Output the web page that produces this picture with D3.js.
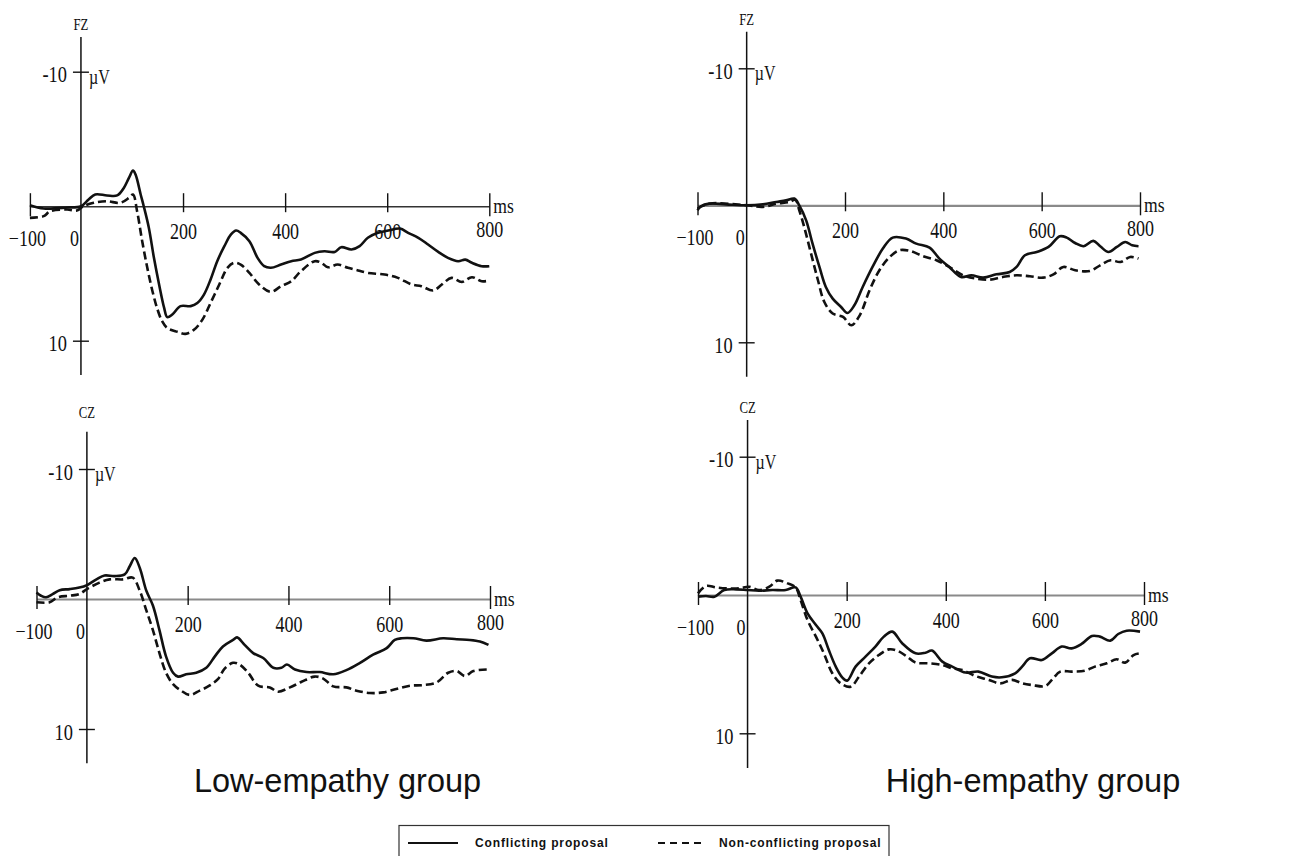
<!DOCTYPE html>
<html>
<head>
<meta charset="utf-8">
<script src="https://cdn.jsdelivr.net/npm/d3@7"></script>
<style>
  body { margin: 0; background: #fff; }
  svg { display: block; }
</style>
</head>
<body>
<svg id="chart" width="1307" height="856"></svg>
<script>
// ERP waveforms, [ms, µV] (negative up)
const fzLowConflict = [[-100,-0.07],[-73,0.17],[-27,0.1],[0,0],[15,-0.5],[28,-0.87],[51,-0.8],[71,-0.8],[84,-1.36],[94,-2.1],[102,-2.65],[107,-2.35],[117,-0.87],[123,0],[133,1.6],[143,3.84],[153,5.8],[163,7.56],[169,8.25],[179,8.05],[195,7.43],[215,7.43],[228,7.2],[241,6.57],[254,5.45],[267,4.09],[281,2.97],[294,2.1],[304,1.81],[313,1.98],[330,2.6],[346,3.84],[359,4.46],[372,4.58],[392,4.34],[412,4.09],[431,3.97],[458,3.47],[477,3.35],[497,3.4],[510,3.05],[530,3.22],[546,2.97],[562,2.35],[582,1.98],[602,1.81],[625,1.66],[641,1.98],[661,2.35],[680,2.85],[700,3.4],[719,3.84],[739,4.09],[753,3.97],[766,4.21],[785,4.46],[800,4.46]];
const fzLowNonConflict = [[-100,0.87],[-73,0.74],[-60,0.37],[-27,0.25],[-8,0.32],[5,0],[25,-0.25],[51,-0.37],[77,-0.25],[94,-0.62],[102,-0.87],[110,0.37],[120,2.6],[130,4.58],[140,6.3],[149,7.56],[159,8.55],[169,9.05],[189,9.34],[205,9.49],[222,9.17],[238,8.43],[254,7.19],[271,5.82],[287,4.58],[300,4.21],[313,4.34],[330,4.96],[349,5.82],[372,6.37],[392,5.95],[412,5.58],[431,4.83],[458,4.09],[471,4.21],[484,4.54],[503,4.34],[523,4.58],[543,4.78],[562,4.96],[595,5.08],[621,5.33],[648,5.82],[667,5.95],[690,6.27],[707,5.82],[726,5.33],[746,5.63],[766,5.28],[785,5.58],[800,5.53]];

const fzHighConflict = [[-100,0.36],[-93,0.07],[-76,-0.12],[-42,-0.07],[0,0],[33,-0.07],[60,-0.24],[80,-0.36],[97,-0.49],[107,0],[121,1.1],[134,2.8],[148,4.5],[161,5.96],[175,6.81],[192,7.42],[205,7.86],[219,7.3],[236,5.96],[256,4.5],[277,3.16],[297,2.36],[324,2.43],[345,2.8],[372,3.09],[392,3.89],[412,4.5],[436,5.23],[457,5.11],[481,5.28],[508,5.04],[535,4.87],[549,4.5],[566,3.65],[590,3.41],[614,3.04],[637,2.26],[651,2.36],[668,2.75],[685,2.99],[705,2.6],[719,2.99],[736,3.41],[753,3.04],[770,2.68],[784,2.92],[797,2.99]];
const fzHighNonConflict = [[-100,0.24],[-76,-0.12],[0,0],[33,0.12],[60,-0.12],[87,-0.24],[99,-0.4],[107,0.36],[117,1.58],[131,3.53],[145,5.47],[158,7.06],[175,7.9],[196,8.15],[213,8.76],[230,8.03],[250,6.2],[270,4.74],[291,3.77],[311,3.28],[332,3.33],[359,3.72],[386,4.01],[412,4.5],[440,5.11],[467,5.35],[494,5.43],[521,5.23],[549,5.11],[576,5.18],[603,5.28],[624,5.04],[644,4.5],[668,4.74],[698,4.79],[719,4.38],[740,4.01],[760,4.14],[780,3.77],[797,3.89]];

const czLowConflict = [[-100,-0.5],[-91,-0.25],[-81,-0.13],[-68,-0.38],[-54,-0.68],[-34,-0.76],[-15,-0.88],[0,-1.06],[19,-1.51],[35,-1.81],[55,-1.76],[75,-1.89],[85,-2.52],[95,-3.15],[105,-2.39],[118,-0.63],[131,0.5],[144,2.39],[157,4.41],[171,5.67],[181,5.97],[197,5.79],[217,5.67],[237,5.29],[254,4.41],[270,3.65],[290,3.15],[298,2.95],[313,3.53],[330,4.16],[350,4.54],[370,5.29],[386,5.29],[397,5.04],[413,5.42],[436,5.62],[462,5.62],[489,5.79],[515,5.47],[542,4.91],[568,4.28],[595,3.78],[611,3.15],[625,3.02],[648,3.02],[674,3.2],[707,3.02],[734,3.1],[760,3.15],[780,3.27],[797,3.53]];
const czLowNonConflict = [[-100,0.25],[-74,0.25],[-58,-0.13],[-34,-0.25],[-15,-0.38],[0,-0.76],[25,-1.26],[45,-1.51],[72,-1.51],[91,-1.64],[105,-0.63],[118,0.88],[131,2.39],[144,4.16],[157,5.67],[171,6.55],[187,7.05],[204,7.38],[224,7.05],[243,6.67],[260,6.17],[273,5.37],[290,4.91],[303,5.04],[320,5.67],[340,6.67],[363,6.8],[379,7.13],[403,6.8],[426,6.37],[452,5.97],[469,6.12],[489,6.72],[515,6.8],[535,7.05],[562,7.23],[588,7.18],[614,6.92],[641,6.67],[667,6.62],[694,6.42],[717,5.67],[734,5.54],[750,5.92],[767,5.54],[797,5.42]];

const czHighConflict = [[-100,0.12],[-84,0.07],[-67,0.12],[-47,-0.36],[-23,-0.41],[0,-0.36],[23,-0.31],[50,-0.36],[77,-0.36],[97,-0.55],[107,0.12],[121,1.33],[138,2.17],[151,2.77],[164,3.98],[178,5.18],[191,5.95],[201,6.19],[218,5.18],[238,4.46],[258,3.73],[275,3.01],[292,2.65],[312,3.49],[339,4.22],[359,4.17],[372,4.02],[393,4.82],[413,5.18],[440,5.61],[466,5.54],[493,5.9],[513,5.95],[540,5.66],[554,5.18],[570,4.58],[594,4.7],[614,4.22],[634,3.73],[654,3.86],[674,3.54],[695,2.96],[711,3.01],[732,3.3],[748,2.82],[765,2.58],[792,2.65]];
const czHighNonConflict = [[-100,-0.12],[-84,-0.65],[-64,-0.55],[-44,-0.48],[-17,-0.48],[3,-0.6],[23,-0.36],[44,-0.6],[60,-1.04],[81,-0.84],[97,-0.55],[107,0.36],[121,1.81],[138,3.01],[154,4.22],[171,5.66],[188,6.39],[208,6.63],[225,5.9],[245,4.94],[265,4.34],[285,3.93],[302,4.02],[322,4.46],[339,4.89],[366,4.94],[393,5.06],[413,5.3],[433,5.42],[460,5.86],[487,6.14],[510,6.39],[534,6.14],[554,6.39],[574,6.51],[601,6.58],[614,6.14],[631,5.54],[654,5.54],[681,5.47],[701,5.18],[725,4.94],[745,4.65],[762,4.89],[779,4.34],[792,4.22]];

const xTicks = [-100, 0, 200, 400, 600, 800];
const yTicks = [-10, 10];
const groupLabels = ["Low-empathy group", "High-empathy group"];
const seriesNames = ["Conflicting proposal", "Non-conflicting proposal"];

// panel layout (pixel placement of each small plot)
const panels = [
    {site: "FZ", solid: fzLowConflict, dash: fzLowNonConflict, x0: 29.9, x1: 489.3, yTop: 71.7, yBot: 340.7, axTop: 37, axBot: 375, labY: 30, zeroCol: "#333", zeroW: 1.5},
    {site: "FZ", solid: fzHighConflict, dash: fzHighNonConflict, x0: 697.5, x1: 1140, yTop: 68.3, yBot: 342.3, axTop: 31.7, axBot: 376.7, labY: 25, zeroCol: "#8a8a8a", zeroW: 2.2},
    {site: "CZ", solid: czLowConflict, dash: czLowNonConflict, x0: 36.5, x1: 490, yTop: 469, yBot: 729, axTop: 431.7, axBot: 763.3, labY: 418, zeroCol: "#8a8a8a", zeroW: 2.2},
    {site: "CZ", solid: czHighConflict, dash: czHighNonConflict, x0: 698, x1: 1144, yTop: 456.7, yBot: 733.3, axTop: 420, axBot: 768, labY: 413, zeroCol: "#8a8a8a", zeroW: 2.2}
];

const svg = d3.select("#chart");
const serif = "'Liberation Serif', 'Times New Roman', serif";
const squeeze = 0.8;

function serifText(g, x, y, str, anchor, size) {
    return g.append("text")
        .attr("transform", `translate(${x},${y}) scale(${squeeze},1)`)
        .attr("text-anchor", anchor)
        .attr("font-family", serif)
        .attr("font-size", size)
        .attr("fill", "#111")
        .text(str);
}

panels.forEach((p) => {
    const g = svg.append("g");

    const x = d3.scaleLinear().domain([-100, 800]).range([p.x0, p.x1]);
    const y = d3.scaleLinear().domain([-10, 10]).range([p.yTop, p.yBot]);
    const ax = x(0), ay = y(0);

    // x axis (zero line)
    const xAxis = d3.axisBottom(x)
        .tickValues(xTicks)
        .tickSizeOuter(0)
        .tickFormat(d3.format("d"));

    const xg = g.append("g")
        .attr("transform", `translate(0,${ay})`)
        .call(xAxis);
    xg.select(".domain").attr("stroke", p.zeroCol).attr("stroke-width", p.zeroW);
    xg.selectAll(".tick line")
        .attr("stroke", "#111")
        .attr("stroke-width", 1.4)
        .attr("y1", -13)
        .attr("y2", (d) => (d === -100 || d === 800) ? 10 : 6)
        .filter((d) => d === 0).remove();
    xg.selectAll(".tick text")
        .attr("font-family", serif)
        .attr("font-size", 22.5)
        .attr("fill", "#111")
        .attr("dy", null)
        .attr("y", (d) => (d <= 0) ? 40 : (d === 800 ? 31 : 33))
        .attr("transform", (d) => {
            const dx = d === 0 ? -7 : (d === -100 ? -3 : 0);
            return `translate(${dx},0) scale(${squeeze},1)`;
        });

    // y axis
    const yAxis = d3.axisLeft(y).tickValues(yTicks).tickSize(8).tickSizeOuter(0);
    const yg = g.append("g")
        .attr("transform", `translate(${ax},0)`)
        .call(yAxis);
    yg.select(".domain").remove();
    yg.selectAll(".tick line").attr("x1", -8).attr("x2", 8).attr("stroke", "#111").attr("stroke-width", 1.4);
    yg.selectAll(".tick text")
        .attr("font-family", serif)
        .attr("font-size", 23)
        .attr("fill", "#111")
        .attr("x", null)
        .attr("dy", null)
        .attr("transform", `translate(-14,10) scale(${squeeze},1)`)
        .text((d) => d);

    g.append("line")
        .attr("x1", ax).attr("x2", ax)
        .attr("y1", p.axTop).attr("y2", p.axBot)
        .attr("stroke", "#111").attr("stroke-width", 1.5);

    serifText(g, ax, p.labY, p.site, "middle", 16);
    serifText(g, ax + 8, y(-10) + 12, "µV", "start", 20);
    serifText(g, x(800) + 4, ay + 7, "ms", "start", 22);

    const line = d3.line()
        .curve(d3.curveCatmullRom.alpha(0.5))
        .x((d) => x(d[0]))
        .y((d) => y(d[1]));

    g.append("path")
        .datum(p.dash)
        .attr("d", line)
        .attr("fill", "none")
        .attr("stroke", "#111")
        .attr("stroke-width", 2.6)
        .attr("stroke-dasharray", "8,4");

    g.append("path")
        .datum(p.solid)
        .attr("d", line)
        .attr("fill", "none")
        .attr("stroke", "#111")
        .attr("stroke-width", 2.6);
});

// group captions
svg.selectAll(".group")
    .data(groupLabels)
    .enter()
    .append("text")
    .attr("class", "group")
    .attr("x", (d, i) => i === 0 ? 337.5 : 1033)
    .attr("y", 792)
    .attr("text-anchor", "middle")
    .attr("font-family", "'Liberation Sans', Arial, sans-serif")
    .attr("font-size", 32.5)
    .attr("fill", "#111")
    .text((d) => d);

// legend
const legend = svg.append("g");
legend.append("rect")
    .attr("x", 399).attr("y", 825.5)
    .attr("width", 490).attr("height", 40)
    .attr("fill", "#fff")
    .attr("stroke", "#333")
    .attr("stroke-width", 1.2);

const legendItems = legend.selectAll(".item")
    .data(seriesNames)
    .enter()
    .append("g")
    .attr("class", "item")
    .attr("transform", (d, i) => `translate(${i === 0 ? 408 : 658},843)`);

legendItems.append("line")
    .attr("x1", 0).attr("x2", (d, i) => i === 0 ? 50 : 48)
    .attr("stroke", "#111")
    .attr("stroke-width", 2)
    .attr("stroke-dasharray", (d, i) => i === 0 ? null : "7,5");

legendItems.append("text")
    .attr("x", (d, i) => i === 0 ? 67 : 61)
    .attr("y", 4)
    .attr("font-family", "'Liberation Sans', Arial, sans-serif")
    .attr("font-weight", "bold")
    .attr("font-size", 12)
    .attr("letter-spacing", 0.85)
    .attr("fill", "#111")
    .text((d) => d);
</script>
</body>
</html>
